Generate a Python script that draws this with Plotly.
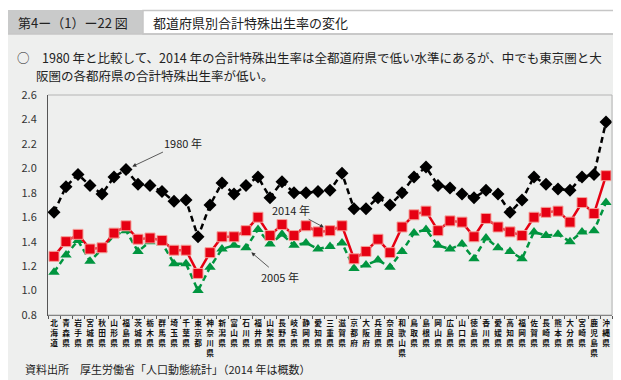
import plotly.graph_objects as go

prefectures = ["北海道","青森県","岩手県","宮城県","秋田県","山形県","福島県","茨城県","栃木県","群馬県",
               "埼玉県","千葉県","東京都","神奈川県","新潟県","富山県","石川県","福井県","山梨県","長野県",
               "岐阜県","静岡県","愛知県","三重県","滋賀県","京都府","大阪府","兵庫県","奈良県","和歌山県",
               "鳥取県","島根県","岡山県","広島県","山口県","徳島県","香川県","愛媛県","高知県","福岡県",
               "佐賀県","長崎県","熊本県","大分県","宮崎県","鹿児島県","沖縄県"]

tfr_1980 = [1.64,1.85,1.95,1.86,1.79,1.93,1.99,1.87,1.86,1.81,1.73,1.74,1.44,1.70,1.88,1.79,1.86,1.93,1.76,1.89,
            1.80,1.80,1.81,1.82,1.96,1.67,1.67,1.76,1.70,1.80,1.93,2.01,1.86,1.84,1.79,1.76,1.82,1.79,1.64,1.74,
            1.93,1.87,1.83,1.82,1.93,1.95,2.38]
tfr_2014 = [1.28,1.40,1.46,1.34,1.35,1.47,1.53,1.42,1.43,1.41,1.33,1.33,1.14,1.31,1.44,1.44,1.49,1.60,1.45,1.54,
            1.45,1.53,1.48,1.49,1.53,1.26,1.32,1.42,1.31,1.52,1.62,1.65,1.49,1.57,1.56,1.44,1.59,1.52,1.48,1.45,
            1.60,1.64,1.65,1.56,1.72,1.63,1.94]
tfr_2005 = [1.15,1.29,1.41,1.24,1.34,1.45,1.49,1.32,1.40,1.39,1.22,1.22,1.00,1.19,1.34,1.37,1.35,1.50,1.38,1.46,
            1.37,1.39,1.34,1.36,1.39,1.18,1.21,1.25,1.19,1.32,1.47,1.50,1.37,1.34,1.38,1.26,1.43,1.35,1.32,1.26,
            1.48,1.45,1.46,1.40,1.48,1.49,1.72]

y_ticks = [0.8, 1.0, 1.2, 1.4, 1.6, 1.8, 2.0, 2.2, 2.4, 2.6]

FONT = "Noto Sans CJK JP"
FW, FH = 621, 380
L, T, R, B = 40, 87, 17, 73
W, H = FW - L - R, FH - T - B

def px(x):
    return (x - L) / W

def py(y):
    return (T + H - y) / H

fig = go.Figure()

fig.add_trace(go.Scatter(
    x=prefectures, y=tfr_2005, mode="lines+markers", name="2005年",
    line=dict(color="#00953f", width=2.5, dash="6px,4px"),
    marker=dict(symbol="triangle-up", size=10, color="#00953f")))
fig.add_trace(go.Scatter(
    x=prefectures, y=tfr_1980, mode="lines+markers", name="1980年",
    line=dict(color="#000000", width=2.5, dash="6px,4px"),
    marker=dict(symbol="diamond", size=10, color="#000000")))
fig.add_trace(go.Scatter(
    x=prefectures, y=tfr_2014, mode="lines+markers", name="2014年",
    line=dict(color="#e60012", width=2.5),
    marker=dict(symbol="square", size=10, color="#e60012", line=dict(color="#f5a09a", width=1))))

shapes = []
body = (f"M {px(0)},{py(26)} L {px(618)},{py(26)} L {px(618)},{py(362)} "
        f"Q {px(618)},{py(376)} {px(604)},{py(376)} L {px(0)},{py(376)} Z")
shapes.append(dict(type="path", path=body, xref="paper", yref="paper",
                   fillcolor="#eeefee", line=dict(width=0), layer="below"))
shapes.append(dict(type="rect", xref="paper", yref="paper", x0=px(0), x1=px(135), y0=py(26), y1=py(2),
                   fillcolor="#c9caca", line=dict(width=0), layer="below"))
head = (f"M {px(135)},{py(26)} L {px(135)},{py(2.5)} L {px(606)},{py(2.5)} "
        f"Q {px(618)},{py(2.5)} {px(618)},{py(14)} L {px(618)},{py(26)} Z")
shapes.append(dict(type="path", path=head, xref="paper", yref="paper",
                   fillcolor="#ffffff", line=dict(color="#c6c6c6", width=1.5), layer="below"))
shapes.append(dict(type="line", xref="paper", yref="paper", x0=px(0), x1=px(618), y0=py(26), y1=py(26),
                   line=dict(color="#c6c6c6", width=1.5), layer="below"))
shapes.append(dict(type="path", xref="paper", yref="paper",
                   path="M 0,0 L 1,0 L 1,1 L 0,1", line=dict(color="#b4b4b4", width=1), layer="above"))

annotations = []
annotations.append(dict(text="第4ー（1）ー22 図", xref="paper", yref="paper", x=px(8), y=py(14),
                        xanchor="left", yanchor="middle", showarrow=False,
                        font=dict(family=FONT, size=13, color="#222222")))
annotations.append(dict(text="都道府県別合計特殊出生率の変化", xref="paper", yref="paper", x=px(143), y=py(14),
                        xanchor="left", yanchor="middle", showarrow=False,
                        font=dict(family=FONT, size=13, color="#222222")))
annotations.append(dict(text="○　1980 年と比較して、2014 年の合計特殊出生率は全都道府県で低い水準にあるが、中でも東京圏と大",
                        xref="paper", yref="paper", x=px(7), y=py(50),
                        xanchor="left", yanchor="middle", showarrow=False,
                        font=dict(family=FONT, size=12.5, color="#222222")))
annotations.append(dict(text="阪圏の各都府県の合計特殊出生率が低い。",
                        xref="paper", yref="paper", x=px(26), y=py(67),
                        xanchor="left", yanchor="middle", showarrow=False,
                        font=dict(family=FONT, size=12.5, color="#222222")))
annotations.append(dict(text="資料出所　厚生労働省「人口動態統計」（2014 年は概数）",
                        xref="paper", yref="paper", x=px(15), y=py(361),
                        xanchor="left", yanchor="middle", showarrow=False,
                        font=dict(family=FONT, size=11, color="#222222")))

def label(text, i, series, ax, ay):
    annotations.append(dict(text=text, x=prefectures[i], y=series[i], xref="x", yref="y",
                            ax=ax, ay=ay, axref="pixel", ayref="pixel",
                            showarrow=True, arrowhead=2, arrowsize=1, arrowwidth=0.8,
                            arrowcolor="#333333", standoff=7,
                            font=dict(family=FONT, size=11, color="#222222")))

label("1980 年", 6, tfr_1980, 57, -27)
label("2014 年", 23, tfr_2014, -39, -21)
label("2005 年", 16, tfr_2005, 34, 29)

fig.update_layout(
    width=FW, height=FH,
    margin=dict(l=L, r=R, t=T, b=B),
    paper_bgcolor="#ffffff", plot_bgcolor="#ffffff",
    showlegend=False,
    shapes=shapes, annotations=annotations,
    font=dict(family=FONT, color="#222222"),
)
fig.update_xaxes(type="category", range=[-0.5, len(prefectures) - 0.5], showgrid=False,
                 tickvals=prefectures, ticktext=["<br>".join(list(p)) for p in prefectures],
                 tickangle=0,
                 tickfont=dict(family=FONT, size=7.7, color="#111111", weight="bold"),
                 ticks="outside", tickson="boundaries", ticklen=3, ticklabelstandoff=1,
                 tickcolor="#555555", showline=True, linecolor="#555555", linewidth=1, zeroline=False)
fig.update_yaxes(range=[0.8, 2.6], tickvals=y_ticks, ticktext=[f"{v:.1f}" for v in y_ticks],
                 showgrid=False, zeroline=False, showline=True, linecolor="#555555", linewidth=1,
                 ticks="", ticklabelstandoff=8,
                 tickfont=dict(family=FONT, size=11, color="#333333"))

fig.write_html("out.html")
